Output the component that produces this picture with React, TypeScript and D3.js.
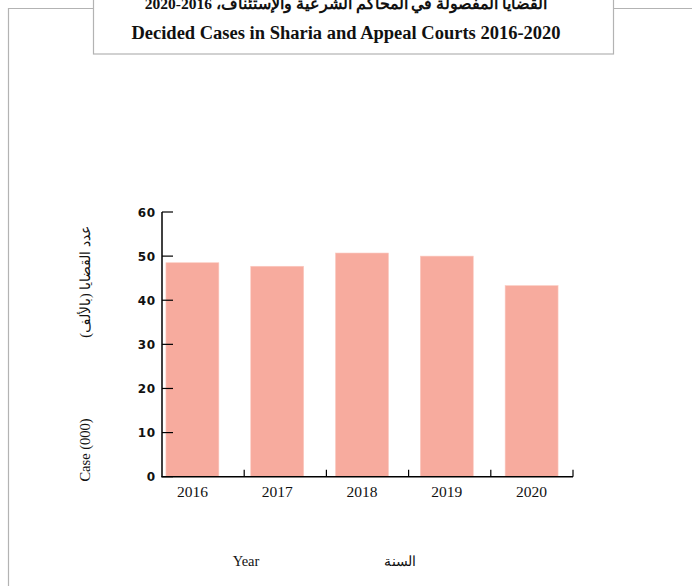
import React from "react";
import * as d3 from "d3";

const years = ["2016", "2017", "2018", "2019", "2020"];
const cases = [48.5, 47.7, 50.7, 50.0, 43.3];
const yTicks = [0, 10, 20, 30, 40, 50, 60];
const titleAr = "القضايا المفصولة في المحاكم الشرعية والإستئناف، 2016-2020";
const titleEn = "Decided Cases in Sharia and Appeal Courts 2016-2020";
const yLabelAr = "عدد القضايا (بالألف)";
const yLabelEn = "Case (000)";
const xLabelEn = "Year";
const xLabelAr = "السنة";

const W = 692;
const H = 586;
const axisLeft = 162;
const axisRight = 573;
const axisBottom = 476.7;
const axisTop = 212;

export default function App() {
  const y = d3.scaleLinear().domain([0, 60]).range([axisBottom, axisTop]);
  const x = d3
    .scaleBand<string>()
    .domain(years)
    .range([150, 574])
    .paddingInner(0.376)
    .paddingOuter(0.188);
  const sep = d3.scaleLinear().domain([0, years.length]).range([axisLeft, axisRight]);
  const sepTicks = d3.range(1, years.length + 1);
  const serif = "'Liberation Serif', 'Times New Roman', 'DejaVu Serif', serif";
  const frame = "#b3b3b3";

  return (
    <svg
      width={W}
      height={H}
      style={{ position: "absolute", left: 0, top: 0, background: "#fff" }}
    >
      <rect x={0} y={0} width={W} height={H} fill="#fff" />
      {/* outer frame */}
      <path
        d={`M8.5,${H + 2} L8.5,8.5 L93.5,8.5 M613.5,8.5 L${W + 2},8.5`}
        fill="none"
        stroke={frame}
        strokeWidth={1.2}
      />
      {/* title box */}
      <rect
        x={93.5}
        y={-10}
        width={520}
        height={64}
        fill="#fff"
        stroke={frame}
        strokeWidth={1.2}
      />
      <text
        x={346}
        y={9}
        textAnchor="middle"
        fontFamily={serif}
        fontWeight="bold"
        fontSize={15.5}
        fill="#111"
        direction="rtl"
      >
        {titleAr}
      </text>
      <text
        x={346}
        y={39}
        textAnchor="middle"
        fontFamily={serif}
        fontWeight="bold"
        fontSize={18.5}
        fill="#111"
      >
        {titleEn}
      </text>

      {/* bars */}
      {years.map((yr, i) => (
        <rect
          key={yr}
          x={x(yr)}
          y={y(cases[i])}
          width={x.bandwidth()}
          height={axisBottom - y(cases[i])}
          fill="#f7ab9e"
          stroke="#fbc9bf"
          strokeWidth={0.6}
        />
      ))}

      {/* y axis */}
      <line x1={axisLeft} x2={axisLeft} y1={axisTop} y2={axisBottom} stroke="#000" strokeWidth={1.5} />
      {yTicks.map((t) => (
        <g key={t}>
          <line x1={axisLeft} x2={axisLeft + 11} y1={y(t)} y2={y(t)} stroke="#000" strokeWidth={1.2} />
          <text
            x={156}
            y={y(t) + 4.5}
            textAnchor="end"
            fontFamily="'DejaVu Sans', Verdana, sans-serif"
            fontWeight={600}
            fontSize={12}
            letterSpacing={0.8}
            fill="#111"
          >
            {t}
          </text>
        </g>
      ))}

      {/* x axis */}
      <line x1={axisLeft - 0.75} x2={axisRight} y1={axisBottom} y2={axisBottom} stroke="#000" strokeWidth={1.5} />
      {sepTicks.map((k) => (
        <line
          key={k}
          x1={sep(k)}
          x2={sep(k)}
          y1={axisBottom}
          y2={axisBottom - 7}
          stroke="#000"
          strokeWidth={1.2}
        />
      ))}
      {years.map((yr) => (
        <text
          key={yr}
          x={(x(yr) as number) + x.bandwidth() / 2}
          y={497}
          textAnchor="middle"
          fontFamily={serif}
          fontSize={15.5}
          fill="#111"
        >
          {yr}
        </text>
      ))}

      {/* y labels */}
      <text
        transform="translate(90,282) rotate(-90)"
        textAnchor="middle"
        fontFamily={serif}
        fontSize={14}
        fill="#111"
        direction="rtl"
      >
        {yLabelAr}
      </text>
      <text
        transform="translate(90,450) rotate(-90)"
        textAnchor="middle"
        fontFamily={serif}
        fontSize={14.5}
        fill="#111"
      >
        {yLabelEn}
      </text>

      {/* x labels */}
      <text x={246} y={566} textAnchor="middle" fontFamily={serif} fontSize={14.5} fill="#111">
        {xLabelEn}
      </text>
      <text x={400} y={566} textAnchor="middle" fontFamily={serif} fontSize={14} fill="#111" direction="rtl">
        {xLabelAr}
      </text>
    </svg>
  );
}
